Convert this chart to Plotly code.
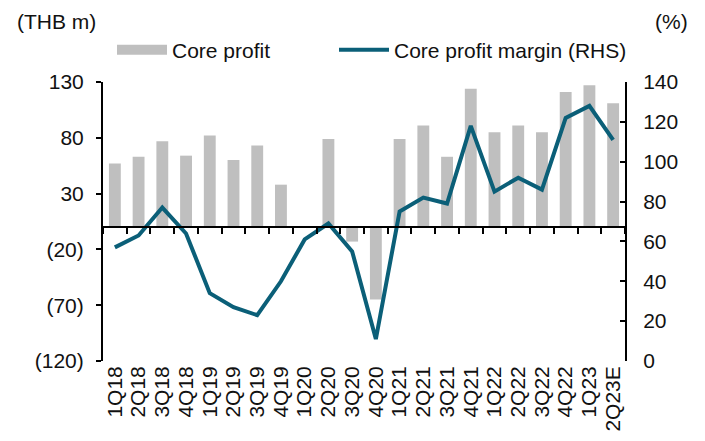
import plotly.graph_objects as go

quarters = ["1Q18", "2Q18", "3Q18", "4Q18", "1Q19", "2Q19", "3Q19", "4Q19",
            "1Q20", "2Q20", "3Q20", "4Q20", "1Q21", "2Q21", "3Q21", "4Q21",
            "1Q22", "2Q22", "3Q22", "4Q22", "1Q23", "2Q23E"]
core_profit = [57, 63, 77, 64, 82, 60, 73, 38, 1, 79, -13, -65,
               79, 91, 63, 124, 85, 91, 85, 121, 127, 111]
core_margin = [57, 63, 77, 64, 34, 27, 23, 40, 61, 69, 55, 11,
               75, 82, 79, 118, 85, 92, 86, 122, 128, 111]

left_ticks = [130, 80, 30, -20, -70, -120]
left_ticktext = ["130", "80", "30", "(20)", "(70)", "(120)"]

FONT = "Liberation Sans, Arial, sans-serif"
LINE_COLOR = "#0b5f78"
BAR_COLOR = "#bfbfbf"
FS = 21

# page has an 8px body margin, so the figure sits at (8, 8)
ML, MT, PW, PH = 95, 74, 522, 279

fig = go.Figure()
fig.add_trace(go.Bar(x=quarters, y=core_profit, name="Core profit",
                     marker=dict(color=BAR_COLOR, line=dict(width=0)),
                     xaxis="x", yaxis="y", showlegend=False))
# legend-only proxy so the legend key is a wide grey block, as in the original
fig.add_trace(go.Scatter(x=[quarters[0]], y=[None], name="Core profit", mode="lines",
                         line=dict(color=BAR_COLOR, width=11),
                         xaxis="x", yaxis="y", hoverinfo="skip", legend="legend"))
fig.add_trace(go.Scatter(x=quarters, y=core_margin, name="Core profit margin (RHS)",
                         mode="lines", line=dict(color=LINE_COLOR, width=4),
                         xaxis="x2", yaxis="y2", legend="legend2"))

n = len(quarters)
leg_common = dict(orientation="h", xanchor="left", yanchor="middle",
                  font=dict(size=FS), bgcolor="rgba(0,0,0,0)", itemwidth=50)
fig.update_layout(
    width=705, height=441,
    margin=dict(l=ML, r=705 - ML - PW, t=MT, b=441 - MT - PH, autoexpand=False),
    paper_bgcolor="white", plot_bgcolor="white",
    font=dict(family=FONT, size=FS, color="#111111"),
    bargap=0.5,
    showlegend=True,
    legend=dict(x=(112 - 103) / PW, y=1 + 32 / PH, **leg_common),
    legend2=dict(x=(334 - 103) / PW, y=1 + 32 / PH, **leg_common),
    xaxis=dict(type="category", range=[-0.5, n - 0.5], showline=False,
               ticks="", tickangle=-90, showgrid=False, zeroline=False,
               tickmode="array", tickvals=quarters, ticktext=quarters,
               tickfont=dict(size=FS)),
    xaxis2=dict(type="category", range=[-0.5, n - 0.5], overlaying="x",
                anchor="free", position=120 / 250, showline=True, linecolor="black",
                linewidth=2, ticks="outside", tickson="boundaries", ticklen=6,
                tickwidth=2, tickcolor="black", showticklabels=False,
                showgrid=False, zeroline=False, matches="x"),
    yaxis=dict(range=[-120, 130], tickvals=left_ticks, ticktext=left_ticktext,
               showline=True, linecolor="black", linewidth=2, ticks="outside",
               ticklen=5, tickwidth=2, tickcolor="black", showgrid=False,
               zeroline=False, ticklabelstandoff=8),
    yaxis2=dict(range=[0, 140], dtick=20, overlaying="y", side="right", anchor="x2",
                showline=True, linecolor="black", linewidth=2, ticks="inside",
                ticklen=5, tickwidth=2, tickcolor="black", showgrid=False,
                zeroline=False, ticklabelstandoff=12),
    annotations=[
        dict(text="(THB m)", x=-(103 - 15) / PW, xanchor="left", y=1 + 60 / PH,
             yanchor="middle", xref="paper", yref="paper", showarrow=False,
             font=dict(size=FS)),
        dict(text="(%)", x=1 + (690 - 625) / PW, xanchor="right", y=1 + 60 / PH,
             yanchor="middle", xref="paper", yref="paper", showarrow=False,
             font=dict(size=FS)),
    ],
)

fig.write_html("out.html")
